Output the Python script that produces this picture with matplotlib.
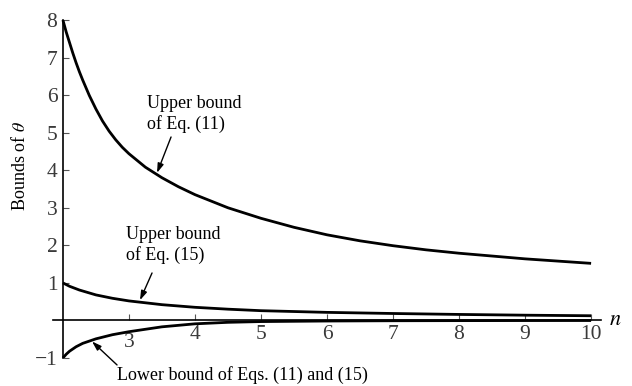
import matplotlib
matplotlib.use("Agg")
import matplotlib.pyplot as plt

plt.rcParams['font.family'] = ['Liberation Serif', 'DejaVu Serif']
plt.rcParams['mathtext.fontset'] = 'stix'

# ---- data ----
n_upper11 = [2, 2.05, 2.1, 2.15, 2.2, 2.25, 2.3, 2.4, 2.5, 2.6, 2.7, 2.8, 2.9, 3, 3.25, 3.5, 3.75, 4, 4.5, 5, 5.5, 6, 6.5, 7, 7.5, 8, 9, 10]
upper11 = [8.0, 7.68, 7.4, 7.12, 6.86, 6.62, 6.4, 5.99, 5.63, 5.31, 5.04, 4.81, 4.61, 4.44, 4.08, 3.80, 3.56, 3.35, 3.0, 2.72, 2.48, 2.28, 2.12, 1.99, 1.88, 1.79, 1.64, 1.52]

n_upper15 = [2, 2.1, 2.25, 2.5, 2.75, 3, 3.5, 4, 4.5, 5, 6, 7, 8, 9, 10]
upper15 = [1.0, 0.91, 0.81, 0.68, 0.59, 0.52, 0.42, 0.35, 0.30, 0.26, 0.215, 0.185, 0.16, 0.14, 0.125]

n_lower = [2, 2.05, 2.1, 2.2, 2.3, 2.4, 2.5, 2.75, 3, 3.5, 4, 4.5, 5, 6, 7, 8, 9, 10]
lower = [-1.0, -0.9, -0.82, -0.7, -0.61, -0.55, -0.49, -0.38, -0.30, -0.17, -0.09, -0.05, -0.03, -0.015, -0.008, -0.005, -0.003, -0.002]

x_ticks = [3, 4, 5, 6, 7, 8, 9, 10]
y_ticks = [-1, 1, 2, 3, 4, 5, 6, 7, 8]
y_ticklabels = ['\u22121', '1', '2', '3', '4', '5', '6', '7', '8']

label_u11 = "Upper bound\nof Eq. (11)"
label_u15 = "Upper bound\nof Eq. (15)"
label_low = "Lower bound of Eqs. (11) and (15)"

fig = plt.figure(figsize=(6.32, 3.86), dpi=100)
ax = fig.add_axes([53/632, 28/386, 548/632, 338/386])

lw = 2.0
ax.plot(n_upper11, upper11, color='black', lw=lw, solid_capstyle='butt', solid_joinstyle='round')
ax.plot(n_upper15, upper15, color='black', lw=lw, solid_capstyle='butt', solid_joinstyle='round')
ax.plot(n_lower, lower, color='black', lw=lw, solid_capstyle='butt', solid_joinstyle='round')

ax.set_xlim(1.85, 10.15)
ax.set_ylim(-1, 8)

for s in ['top', 'right']:
    ax.spines[s].set_visible(False)
ax.spines['left'].set_position(('data', 2))
ax.spines['bottom'].set_position(('data', 0))
ax.spines['left'].set_linewidth(1.2)
ax.spines['bottom'].set_linewidth(1.2)

ax.set_xticks(x_ticks)
ax.set_xticklabels([str(t) for t in x_ticks])
ax.set_yticks(y_ticks)
ax.set_yticklabels(y_ticklabels)
ax.tick_params(axis='both', direction='in', length=4.5, width=0.8, color='#555555',
               labelsize=15.5, labelcolor='#3a3a3a')
ax.tick_params(axis='x', pad=3)
ax.tick_params(axis='y', pad=4)

# the "3" label sits lower in the reference
xt = ax.xaxis.get_major_ticks()
xt[0].set_pad(9)

# axis name n
ax.annotate('$n$', xy=(1, 0), xycoords=('axes fraction', 'data'),
            xytext=(6, 0), textcoords='offset points', va='center', ha='left',
            fontsize=16, annotation_clip=False)

fig.text(20.5/632, 1 - 166/386, r'Bounds of $\theta$', rotation=90,
         ha='center', va='center', fontsize=13)

arrow = dict(arrowstyle='-|>,head_length=0.55,head_width=0.18', color='black', lw=1.0,
             shrinkA=0, shrinkB=0)

ax.text(3.274, 5.50, label_u11, ha='left', va='center', fontsize=13)
ax.annotate('', xy=(3.426, 3.93), xytext=(3.638, 4.885), arrowprops=arrow)

ax.text(2.956, 2.0, label_u15, ha='left', va='center', fontsize=13)
ax.annotate('', xy=(3.168, 0.54), xytext=(3.35, 1.264), arrowprops=arrow)

ax.text(2.82, -1.45, label_low, ha='left', va='center', fontsize=13, clip_on=False)
ax.annotate('', xy=(2.441, -0.56), xytext=(2.82, -1.185), arrowprops=arrow,
            annotation_clip=False)

fig.savefig('out.png', dpi=100)
